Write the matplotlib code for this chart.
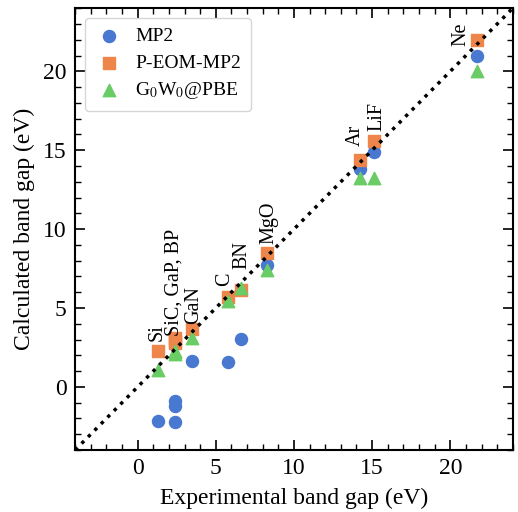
import matplotlib
matplotlib.use("Agg")
import matplotlib.pyplot as plt
from matplotlib.ticker import MultipleLocator

plt.rcParams["font.family"] = ["Liberation Serif", "DejaVu Serif"]
plt.rcParams["mathtext.fontset"] = "stix"
plt.rcParams["font.size"] = 14

# experimental gaps and calculated gaps (eV)
exp_gap = [1.3, 2.4, 2.4, 2.4, 3.5, 5.8, 6.6, 8.3, 14.2, 15.1, 21.7]
mp2 = [-2.15, -0.9, -1.2, -2.2, 1.67, 1.56, 3.04, 7.7, 13.8, 14.9, 21.0]
eom_mp2 = [2.28, 2.9, 3.1, 2.8, 3.7, 5.67, 6.16, 8.5, 14.4, 15.6, 22.0]
g0w0 = [1.08, 2.3, 2.1, 2.2, 3.1, 5.46, 6.3, 7.4, 13.23, 13.23, 20.0]

labels = ["Si", "SiC, GaP, BP", "GaN", "C", "BN", "MgO", "Ar", "LiF", "Ne"]
label_x = [1.25, 2.3, 3.57, 5.55, 6.70, 8.42, 13.95, 15.3, 20.66]
label_y = [2.91, 3.23, 3.99, 6.39, 7.47, 9.05, 15.27, 16.2, 21.6]

blue, orange, green = "#4878d0", "#ee854a", "#6acc64"

fig = plt.figure(figsize=(5.18, 5.12), dpi=100)
ax = fig.add_axes([0.145, 0.121, 0.845, 0.863])

ax.scatter(exp_gap, mp2, s=75, marker="o", color=blue, label="MP2", zorder=2)
ax.scatter(exp_gap, eom_mp2, s=75, marker="s", color=orange, label="P-EOM-MP2", zorder=2)
ax.scatter(exp_gap, g0w0, s=80, marker="^", color=green, label="G$_0$W$_0$@PBE", zorder=2)
ax.plot([-4, 24], [-4, 24], color="black", linestyle=":", linewidth=2.5, zorder=3)

for name, lx, ly in zip(labels, label_x, label_y):
    ax.text(lx, ly, name, rotation=90, ha="center", va="bottom", fontsize=14.5)

ax.set_xlim(-4, 24)
ax.set_ylim(-4, 24)
ax.xaxis.set_major_locator(MultipleLocator(5))
ax.yaxis.set_major_locator(MultipleLocator(5))
ax.xaxis.set_minor_locator(MultipleLocator(1))
ax.yaxis.set_minor_locator(MultipleLocator(1))
ax.tick_params(which="both", direction="in", top=True, right=True)
ax.tick_params(which="major", length=7, width=1.2, labelsize=17, pad=6)
ax.tick_params(which="minor", length=4, width=1)
for sp in ax.spines.values():
    sp.set_linewidth(1.5)

ax.set_xlabel("Experimental band gap (eV)", fontsize=17, labelpad=6)
ax.set_ylabel("Calculated band gap (eV)", fontsize=17, labelpad=6)
ax.legend(loc="upper left", fontsize=14, frameon=True, fancybox=True,
          edgecolor="#cccccc", handlelength=1.5, handletextpad=0.6,
          borderpad=0.5, labelspacing=0.45)

fig.savefig("out.png", dpi=100)
